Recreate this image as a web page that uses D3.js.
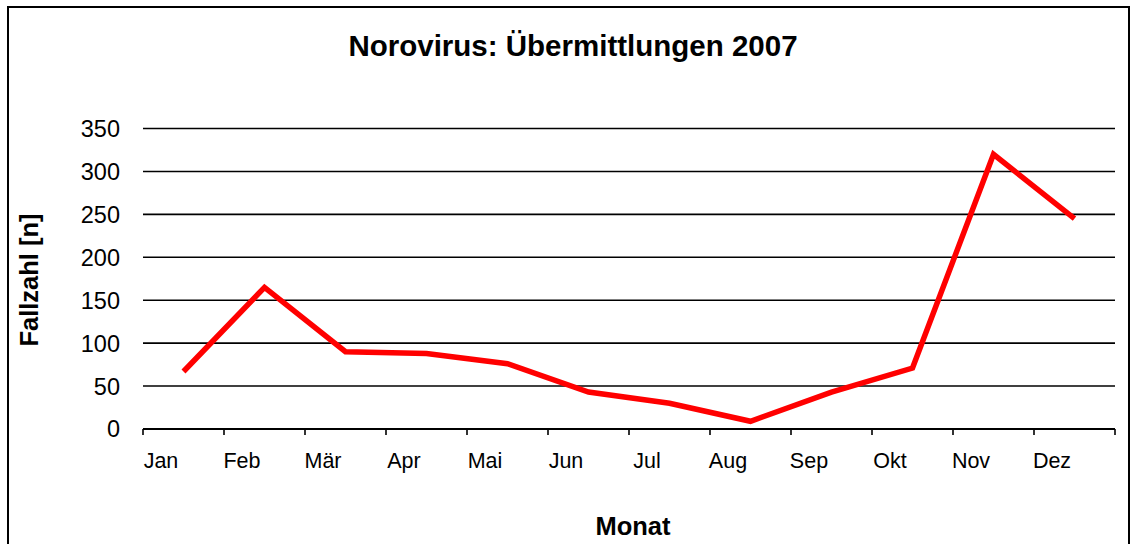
<!DOCTYPE html>
<html>
<head>
<meta charset="utf-8">
<script src="https://cdn.jsdelivr.net/npm/d3@7"></script>
<style>
  body { margin: 0; background: #fff; }
  svg { display: block; font-family: "Liberation Sans", Arial, sans-serif; }
</style>
</head>
<body>
<svg width="1132" height="544"></svg>
<script>
const months = ['Jan', 'Feb', 'Mär', 'Apr', 'Mai', 'Jun', 'Jul', 'Aug', 'Sep', 'Okt', 'Nov', 'Dez'];
const cases = [67, 165, 90, 88, 76, 43, 30, 9, 43, 71, 320, 245];
const yTicks = [0, 50, 100, 150, 200, 250, 300, 350];

const svg = d3.select("svg");

// outer frame (bottom edge is cut off in the picture)
svg.append("rect")
    .attr("x", 8).attr("y", 7)
    .attr("width", 1121).attr("height", 580)
    .attr("fill", "none")
    .attr("stroke", "#000")
    .attr("stroke-width", 2);

const plotLeft = 143, plotRight = 1115, plotTop = 128.5, plotBottom = 429;

const x = d3.scaleBand()
    .domain(months)
    .range([plotLeft, plotRight]);

const y = d3.scaleLinear()
    .domain([0, 350])
    .range([plotBottom, plotTop]);

// gridlines
svg.append("g")
    .selectAll("line")
    .data(yTicks.filter(d => d > 0))
    .enter().append("line")
    .attr("x1", plotLeft).attr("x2", plotRight)
    .attr("y1", d => y(d)).attr("y2", d => y(d))
    .attr("stroke", "#000")
    .attr("stroke-width", 1.6);

// y labels
svg.append("g")
    .selectAll("text")
    .data(yTicks)
    .enter().append("text")
    .attr("x", 120)
    .attr("y", d => y(d))
    .attr("dy", "0.36em")
    .attr("text-anchor", "end")
    .attr("font-size", 23.5)
    .text(d => d);

// x axis
const xAxis = svg.append("g")
    .attr("transform", `translate(0,${plotBottom})`);
xAxis.append("line")
    .attr("x1", plotLeft).attr("x2", plotRight)
    .attr("stroke", "#000").attr("stroke-width", 2);
const edges = months.map(m => x(m)).concat([plotRight]);
xAxis.selectAll(".tick")
    .data(edges)
    .enter().append("line")
    .attr("class", "tick")
    .attr("x1", d => d).attr("x2", d => d)
    .attr("y1", 0).attr("y2", 6)
    .attr("stroke", "#000").attr("stroke-width", 1.6);
xAxis.selectAll("text")
    .data(months)
    .enter().append("text")
    .attr("x", d => x(d) + 18)
    .attr("y", 39)
    .attr("text-anchor", "middle")
    .attr("font-size", 21.5)
    .text(d => d);

// data line
const line = d3.line()
    .x((d, i) => x(months[i]) + x.bandwidth() / 2)
    .y(d => y(d));

svg.append("path")
    .datum(cases)
    .attr("d", line)
    .attr("fill", "none")
    .attr("stroke", "#ff0000")
    .attr("stroke-width", 5.5)
    .attr("stroke-linejoin", "miter");

// titles
svg.append("text")
    .attr("x", 573).attr("y", 56)
    .attr("text-anchor", "middle")
    .attr("font-size", 29.5)
    .attr("font-weight", "bold")
    .text("Norovirus: Übermittlungen 2007");

svg.append("text")
    .attr("x", 633).attr("y", 535)
    .attr("text-anchor", "middle")
    .attr("font-size", 25.5)
    .attr("font-weight", "bold")
    .text("Monat");

svg.append("text")
    .attr("transform", "translate(38,280) rotate(-90)")
    .attr("text-anchor", "middle")
    .attr("font-size", 25.5)
    .attr("font-weight", "bold")
    .text("Fallzahl [n]");
</script>
</body>
</html>
